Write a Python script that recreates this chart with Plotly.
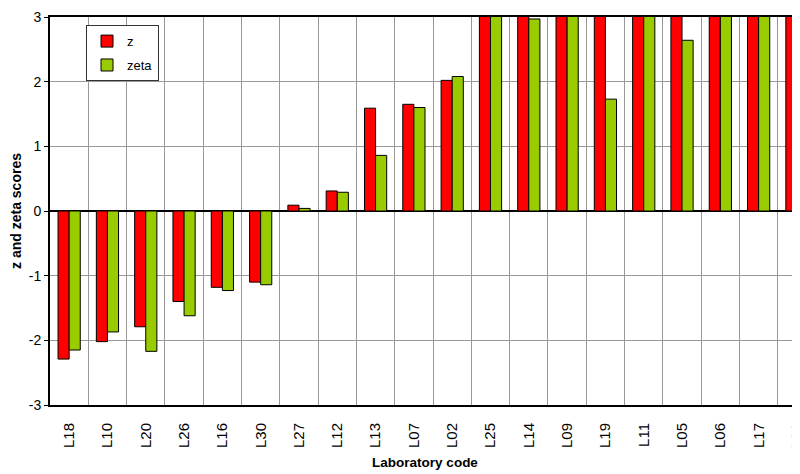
import plotly.graph_objects as go

labs = ["L18", "L10", "L20", "L26", "L16", "L30", "L27", "L12", "L13", "L07",
        "L02", "L25", "L14", "L09", "L19", "L11", "L05", "L06", "L17", "L01"]
z_scores = [-2.29, -2.02, -1.79, -1.40, -1.18, -1.10, 0.09, 0.31, 1.59, 1.65,
            2.02, 3.6, 3.8, 4.0, 4.2, 4.5, 4.8, 5.2, 5.6, 6.0]
zeta_scores = [-2.15, -1.87, -2.17, -1.62, -1.23, -1.14, 0.04, 0.29, 0.86, 1.60,
               2.08, 3.3, 2.97, 3.5, 1.73, 3.8, 2.64, 4.1, 4.4, 4.7]
y_ticks = [-3, -2, -1, 0, 1, 2, 3]
y_ticktext = ["-3", "-2", "-1", "0", "1", "2", "3"]

fig = go.Figure()
fig.add_trace(go.Bar(x=labs, y=z_scores, name="z", legendgroup="a",
                     marker=dict(color="#FF0000", line=dict(color="black", width=1))))
fig.add_trace(go.Bar(x=labs, y=zeta_scores, name="zeta", legendgroup="b",
                     marker=dict(color="#99CC00", line=dict(color="black", width=1))))

fig.update_layout(
    width=792, height=466,
    margin=dict(l=42, r=0, t=9, b=69, autoexpand=False),
    paper_bgcolor="white", plot_bgcolor="white",
    barmode="group", bargap=0.42, bargroupgap=0,
    font=dict(family="Liberation Sans, Arial, sans-serif", color="black"),
    legend=dict(x=0.048, y=0.979, xanchor="left", yanchor="top",
                bgcolor="white", bordercolor="#333", borderwidth=1,
                font=dict(size=13), tracegroupgap=4, itemwidth=30),
    xaxis=dict(range=[-0.5, 19.08], tickson="boundaries", showgrid=True,
               gridcolor="#999", gridwidth=1, tickangle=-90, automargin=False,
               tickfont=dict(size=15), ticks="", ticklabelstandoff=10,
               showline=True, linecolor="black", linewidth=2, mirror=True,
               title=dict(text="<b>Laboratory code</b>", font=dict(size=13.5), standoff=11)),
    yaxis=dict(range=[-3, 3], tickvals=y_ticks, ticktext=y_ticktext, automargin=False,
               showgrid=True, gridcolor="#999", gridwidth=1,
               zeroline=True, zerolinecolor="black", zerolinewidth=1.5,
               ticks="outside", ticklen=4, tickcolor="black", tickfont=dict(size=14),
               showline=True, linecolor="black", linewidth=2,
               title=dict(text="<b>z and zeta scores</b>", font=dict(size=14), standoff=6)),
)

fig.write_html("out.html")
